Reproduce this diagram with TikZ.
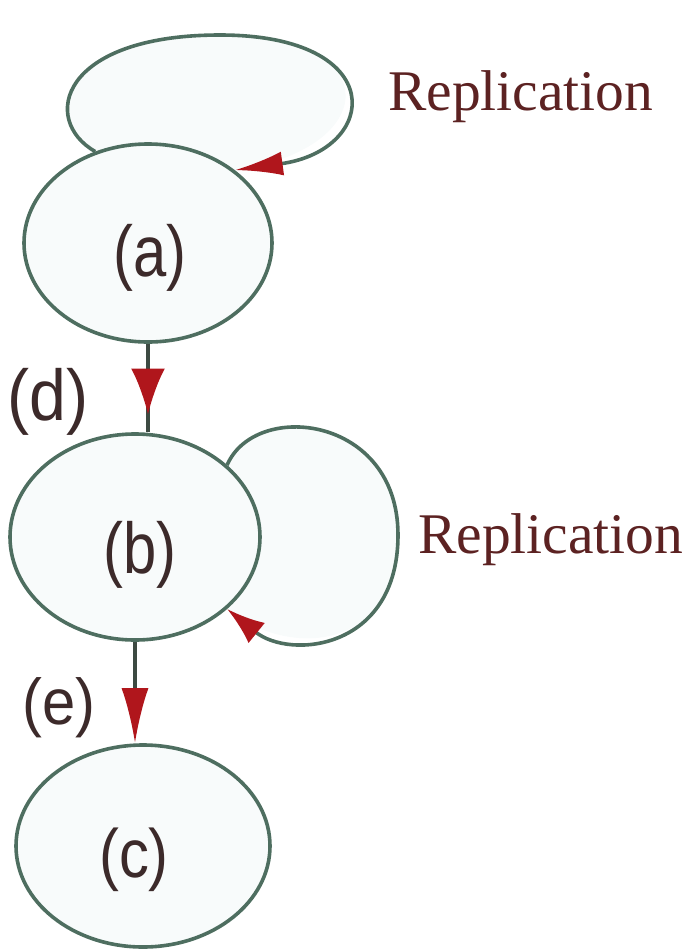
\documentclass[tikz,border=0pt]{standalone}
\usepackage{fontspec}
\usepackage{graphicx}
\setmainfont{Liberation Serif}
\newfontfamily\labfont{Liberation Sans}
\usetikzlibrary{shapes.geometric,arrows.meta,calc}
\pgfdeclarelayer{background}
\pgfsetlayers{background,main}
\definecolor{nodeline}{HTML}{4E6E60}
\definecolor{nodefill}{HTML}{F8FBFB}
\definecolor{arrowred}{HTML}{B0161C}
\definecolor{edgedark}{HTML}{3D4A42}
\definecolor{labcol}{HTML}{3C2A2A}
\definecolor{repcol}{HTML}{5C2222}
\begin{document}
\begin{tikzpicture}[x=1pt,y=-1pt,
  state/.style={ellipse, draw=nodeline, fill=nodefill, line width=3.6pt, inner sep=0pt},
  loopline/.style={draw=nodeline, line width=3.6pt},
  edgeline/.style={draw=edgedark, line width=3.6pt},
  lab/.style={text=labcol, font=\labfont\fontsize{72}{80}\selectfont, inner sep=0pt},
  rep/.style={text=repcol, font=\fontsize{57.5}{64}\selectfont, inner sep=0pt, anchor=base west}]
\useasboundingbox (0,0) rectangle (690,951);
% nodes
\node[state, minimum width=248pt, minimum height=198pt] (a) at (148,243) {};
\node[state, minimum width=250pt, minimum height=206pt] (b) at (135,537) {};
\node[state, minimum width=254pt, minimum height=202pt] (c) at (143,846) {};
% loop fills
\begin{pgfonlayer}{background}
\fill[nodefill] (a.120) .. controls (40,120) and (60,35) .. (220,35) .. controls (390,35) and (380,150) .. (a.40) -- (a.center) -- cycle;
\fill[nodefill] (b.38) .. controls (255,400) and (398,415) .. (398,535) .. controls (398,650) and (290,660) .. (b.-38) -- (b.center) -- cycle;
\end{pgfonlayer}
% loops
\draw[loopline, -{Latex[length=48pt,width=24pt,color=arrowred,fill=arrowred]}] (a.120) .. controls (40,120) and (60,35) .. (220,35) .. controls (390,35) and (380,150) .. (a.40);
\draw[loopline, -{Latex[length=38pt,width=26pt,color=arrowred,fill=arrowred]}] (b.38) .. controls (255,400) and (398,415) .. (398,535) .. controls (398,650) and (290,660) .. (b.-38);
% edges
\coordinate (dtip) at ($(a.south)!0.8!(a.south |- b.north)$);
\draw[edgeline] (a.south) -- (a.south |- b.north);
\draw[edgeline, -{Latex[length=46pt,width=34pt,color=arrowred,fill=arrowred]}] (a.south) -- (dtip);
\draw[edgeline, -{Latex[length=55pt,width=27pt,color=arrowred,fill=arrowred]}] (b.south) -- (b.south |- c.north);
% labels
\node[lab] (ta) at (150,258) {\scalebox{0.83}[1]{(a)}};
\node[lab] (tb) at (140,555) {\scalebox{0.83}[1]{(b)}};
\node[lab] (tc) at (134,860) {\scalebox{0.83}[0.95]{(c)}};
\node[lab] (td) at (48,402) {\scalebox{0.92}[1]{(d)}};
\node[lab] (te) at (59,708) {\scalebox{0.83}[0.9]{(e)}};
\node[rep] (r1) at (388,110) {Replication};
\node[rep] (r2) at (418,553) {Replication};
\end{tikzpicture}
\end{document}
